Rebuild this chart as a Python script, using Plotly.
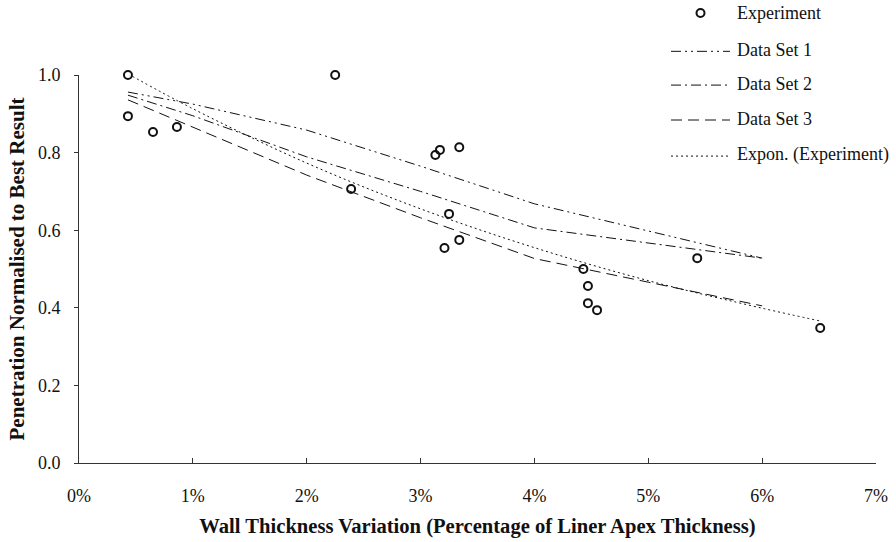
import plotly.graph_objects as go

# Experimental points (x in % wall thickness variation, y normalised penetration)
exp_x = [0.43, 0.43, 0.65, 0.86, 2.25, 2.39, 3.13, 3.17, 3.34, 3.25, 3.21, 3.34,
         4.43, 4.47, 4.47, 4.55, 5.43, 6.51]
exp_y = [1.000, 0.894, 0.853, 0.866, 1.000, 0.706, 0.794, 0.807, 0.814, 0.642, 0.554, 0.575,
         0.500, 0.456, 0.412, 0.394, 0.528, 0.348]

ds_x = [0.43, 1, 2, 3, 4, 5, 6]
ds1_y = [0.956, 0.925, 0.858, 0.765, 0.668, 0.598, 0.528]
ds2_y = [0.948, 0.895, 0.789, 0.700, 0.606, 0.567, 0.528]
ds3_y = [0.936, 0.866, 0.742, 0.632, 0.527, 0.466, 0.405]

trend_x = [0.43, 1, 2, 3, 4, 5, 6, 6.51]
trend_y = [1.003, 0.913, 0.773, 0.655, 0.555, 0.470, 0.399, 0.366]

series_names = ["Experiment", "Data Set 1", "Data Set 2", "Data Set 3", "Expon. (Experiment)"]

x_ticks = [0, 1, 2, 3, 4, 5, 6, 7]
x_tick_text = ["0%", "1%", "2%", "3%", "4%", "5%", "6%", "7%"]
y_ticks = [0.0, 0.2, 0.4, 0.6, 0.8, 1.0]
y_tick_text = ["0.0", "0.2", "0.4", "0.6", "0.8", "1.0"]

FONT = "Liberation Serif, Times New Roman, serif"
INK = "#111111"
DASHES = [None, "10px,4px,2px,4px,2px,4px", "10px,4px,2px,4px", "11px,6px", "2px,3px"]

fig = go.Figure()
fig.add_trace(go.Scatter(
    x=exp_x, y=exp_y, mode="markers", name=series_names[0], showlegend=False,
    marker=dict(symbol="circle-open", size=8, color=INK, line=dict(width=2, color=INK)),
    cliponaxis=False))
for name, ys, dash in [(series_names[1], ds1_y, DASHES[1]),
                       (series_names[2], ds2_y, DASHES[2]),
                       (series_names[3], ds3_y, DASHES[3])]:
    fig.add_trace(go.Scatter(
        x=ds_x, y=ys, mode="lines", name=name, showlegend=False,
        line=dict(color=INK, width=1, dash=dash)))
fig.add_trace(go.Scatter(
    x=trend_x, y=trend_y, mode="lines", name=series_names[4], showlegend=False,
    line=dict(color=INK, width=1, dash=DASHES[4], shape="spline")))

# Legend drawn in paper coordinates (sits above the plot area, top-right)
legend_rows_y = [1.160, 1.064, 0.977, 0.887, 0.794]
leg_line_x0, leg_line_x1, leg_text_x = 0.7428, 0.8168, 0.8231
shapes = []
annotations = []
for i, name in enumerate(series_names):
    yv = legend_rows_y[i]
    if i == 0:
        shapes.append(dict(type="circle", xref="paper", yref="paper",
                           xsizemode="pixel", ysizemode="pixel",
                           xanchor=(leg_line_x0 + leg_line_x1) / 2, yanchor=yv,
                           x0=-4, x1=4, y0=-4, y1=4,
                           line=dict(color=INK, width=2), fillcolor="white"))
    else:
        shapes.append(dict(type="line", xref="paper", yref="paper",
                           x0=leg_line_x0, x1=leg_line_x1, y0=yv - 0.003, y1=yv - 0.003,
                           line=dict(color=INK, width=1, dash=DASHES[i])))
    annotations.append(dict(text=name, xref="paper", yref="paper",
                            x=leg_text_x, y=yv, xanchor="left", yanchor="middle",
                            showarrow=False, font=dict(family=FONT, size=18, color=INK)))

fig.update_layout(
    width=896, height=542,
    margin=dict(l=79, r=20, t=75, b=79, autoexpand=False),
    paper_bgcolor="white", plot_bgcolor="white",
    font=dict(family=FONT, size=18, color=INK),
    showlegend=False,
    shapes=shapes,
    annotations=annotations,
    xaxis=dict(
        range=[0, 7], tickvals=x_ticks, ticktext=x_tick_text,
        showgrid=False, zeroline=False,
        showline=True, linecolor="#333333", linewidth=1,
        ticks="inside", ticklen=5, tickcolor="#333333",
        ticklabelstandoff=16,
        title=dict(text="<b>Wall Thickness Variation (Percentage of Liner Apex Thickness)</b>",
                   font=dict(family=FONT, size=20.6), standoff=13),
    ),
    yaxis=dict(
        range=[0, 1.0], tickvals=y_ticks, ticktext=y_tick_text,
        showgrid=False, zeroline=False,
        showline=True, linecolor="#333333", linewidth=1,
        ticks="outside", ticklen=4, tickcolor="#333333",
        ticklabelstandoff=10,
        title=dict(text="<b>Penetration Normalised to Best Result</b>",
                   font=dict(family=FONT, size=21), standoff=7),
    ),
)

# remove the browser's default 8px body margin so the figure fills the window exactly
fig.write_html("out.html", config={"displayModeBar": False},
               post_script="document.body.style.margin='0';")
